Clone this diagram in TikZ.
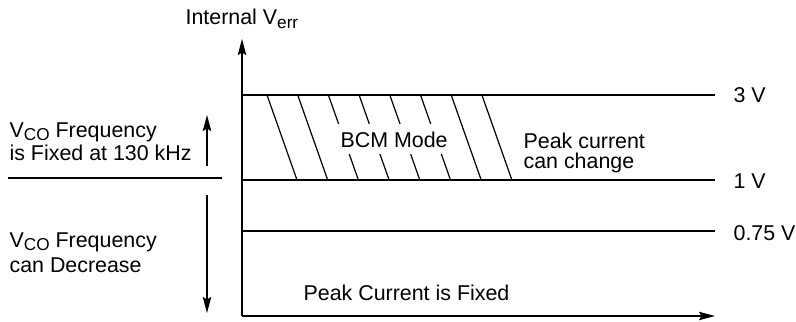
\documentclass[tikz,border=0pt]{standalone}
\usepackage{fontspec}
\setmainfont{Liberation Sans}
\usetikzlibrary{arrows.meta}
\newcommand{\lowsub}[1]{\raisebox{-1.6pt}{\fontsize{8.6}{9}\selectfont #1}}
\tikzset{
  lbl/.style={anchor=base west,inner sep=0pt,font=\fontsize{10.7}{12.8}\selectfont},
  axis/.style={line width=0.6pt,-{Stealth[length=8pt,width=4.2pt,inset=1.2pt]}},
  level/.style={line width=0.6pt},
}
\begin{document}
\begin{tikzpicture}[x=0.5pt,y=-0.5pt,line width=0.6pt]
            \useasboundingbox (0,0) rectangle (796,321);
            % axes
            \coordinate (O) at (242,316);
            \coordinate (ytop) at (242,39);
            \coordinate (xend) at (715,316);
            \draw[axis] (O) -- (ytop);
            \draw[axis] (O) -- (xend);
            \node[lbl] (ylab) at (185,25) {Internal V\lowsub{err}};
            % levels
            \coordinate (l3a) at (242,95);  \coordinate (l3b) at (715,95);
            \coordinate (l1a) at (242,180); \coordinate (l1b) at (715,180);
            \coordinate (l0a) at (242,231); \coordinate (l0b) at (715,231);
            \draw[level] (l3a) -- (l3b);
            \draw[level] (l1a) -- (l1b);
            \draw[level] (l0a) -- (l0b);
            \node[lbl] (v3) at (733,102) {3 V};
            \node[lbl] (v1) at (733,188) {1 V};
            \node[lbl] (v0) at (733,240) {0.75 V};
            % BCM hatch
            \foreach \i in {0,...,7}
                \draw[level] (267+30.7*\i,95) -- (297+30.7*\i,180);
            \node[lbl,fill=white,inner xsep=2.5pt,inner ysep=3.5pt] (bcm) at (335,147) {BCM Mode};
            \node[lbl] (pk1) at (523,148) {Peak current};
            \node[lbl] (pk2) at (523,168) {can change};
            \node[lbl] (pkfix) at (303,300) {Peak Current is Fixed};
            % left side
            \coordinate (sepa) at (8,178);
            \coordinate (sepb) at (222,178);
            \draw[level] (sepa) -- (sepb);
            \coordinate (upa) at (207,166); \coordinate (upb) at (207,115);
            \coordinate (dna) at (207,195); \coordinate (dnb) at (207,313);
            \draw[axis] (upa) -- (upb);
            \draw[axis] (dna) -- (dnb);
            \node[lbl] (f1) at (9,137) {V\lowsub{CO} Frequency};
            \node[lbl] (f2) at (9,160) {is Fixed at 130 kHz};
            \node[lbl] (d1) at (9,247) {V\lowsub{CO} Frequency};
            \node[lbl] (d2) at (9,272) {can Decrease};
        \end{tikzpicture}
\end{document}
